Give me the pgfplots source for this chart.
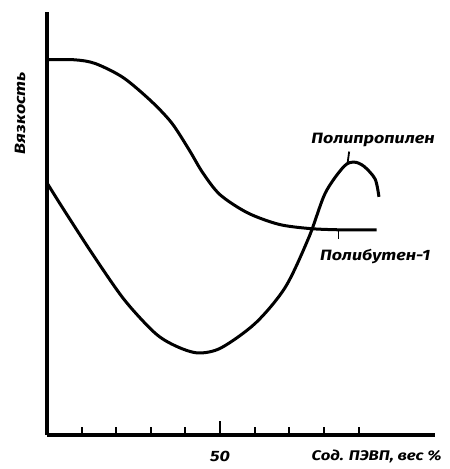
\documentclass[border=0pt]{standalone}
\usepackage{fontspec}
\usepackage{pgfplots}
\pgfplotsset{compat=1.18}
\newfontfamily\lab[FakeStretch=1.2]{Fira Sans}
\newcommand\lb{\lab\bfseries\itshape\fontsize{15}{15}\selectfont}
\begin{document}
\begin{tikzpicture}
\useasboundingbox (-47bp,-34bp) rectangle (403bp,435bp);
\begin{axis}[
  scale only axis, width=388bp, height=423bp,
  xmin=0, xmax=112.1, ymin=0, ymax=100,
  axis x line=bottom, axis y line=left,
  axis line style={-, line width=3bp},
  xtick={10,20,30,40,60,70,80,90}, xticklabels={},
  ytick=\empty,
  tick align=inside, major tick length=8bp,
  tick style={line width=2bp, black},
  extra x ticks={50}, extra x tick labels={},
  extra x tick style={major tick length=14bp},
  clip=false,
]
\addplot[black, line width=3bp, smooth] coordinates {
 (0,88.7) (8,88.7) (14,87.8) (22,84.5) (30,79) (36,73.8) (41,67.5)
 (45,62) (50,56.8) (58,52.5) (67,49.8) (76,48.8) (85,48.5) (95.2,48.5)};
\addplot[black, line width=3bp, smooth] coordinates {
 (0,59.6) (4.9,53.2) (13.7,42.1) (22.4,31.9) (31.2,24.1) (37.3,21.0) (43.6,19.4)
 (50.3,20.6) (60.3,26.5) (68.9,35.0) (75.7,46.8) (80.4,57.2) (85.8,63.5)
 (88.8,64.5) (91.6,63.5) (94.8,60.5) (95.9,56.3)};
\draw[line width=1.8bp] (axis cs:86.8,64.0) -- (axis cs:87.3,67.0);
\draw[line width=1.8bp] (axis cs:84.2,48.5) -- (axis cs:84.2,46.4);
\node[rotate=90] at (axis cs:-7.8,76.1) {\lb Вязкость};
\node at (axis cs:94.2,69.7) {\lb Полипропилен};
\node at (axis cs:94.8,42.3) {\lb Полибутен-1};
\node at (axis cs:50,-5.0) {\lb 50};
\node[anchor=east] at (axis cs:115.0,-5.0) {\lb\fontsize{14}{14}\selectfont Сод. ПЭВП, вес \%};
\end{axis}
\end{tikzpicture}
\end{document}
